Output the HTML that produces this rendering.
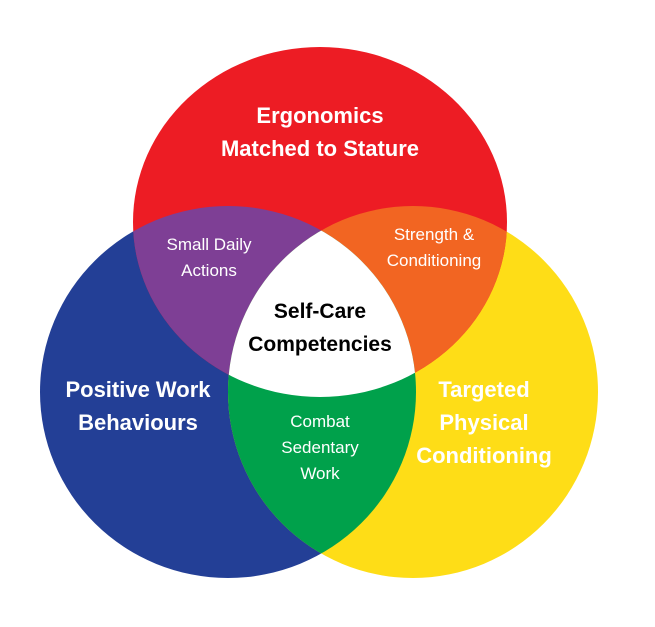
<!DOCTYPE html>
<html><head><style>html,body{margin:0;padding:0;background:#fff;width:655px;height:627px;overflow:hidden}
text{font-family:"Liberation Sans",sans-serif;text-anchor:middle}</style></head><body>
<svg width="655" height="627" viewBox="0 0 655 627">
<defs>
<clipPath id="cr"><ellipse cx="320" cy="222" rx="187" ry="175"/></clipPath>
<clipPath id="cb"><ellipse cx="228" cy="392" rx="188" ry="186"/></clipPath>
<clipPath id="cy"><ellipse cx="413" cy="392" rx="185" ry="186"/></clipPath>
</defs>
<ellipse cx="228" cy="392" rx="188" ry="186" fill="#233F96"/>
<ellipse cx="413" cy="392" rx="185" ry="186" fill="#FEDD17"/>
<ellipse cx="320" cy="222" rx="187" ry="175" fill="#ED1C24"/>
<g clip-path="url(#cb)"><ellipse cx="320" cy="222" rx="187" ry="175" fill="#7E3F95"/></g>
<g clip-path="url(#cy)"><ellipse cx="320" cy="222" rx="187" ry="175" fill="#F26522"/></g>
<g clip-path="url(#cb)"><ellipse cx="413" cy="392" rx="185" ry="186" fill="#00A14B"/></g>
<g clip-path="url(#cr)"><g clip-path="url(#cb)"><ellipse cx="413" cy="392" rx="185" ry="186" fill="#fff"/></g></g>
<g fill="#fff" font-weight="bold" font-size="22">
<text x="320" y="123">Ergonomics</text>
<text x="320" y="156">Matched to Stature</text>
<text x="138" y="397">Positive Work</text>
<text x="138" y="430">Behaviours</text>
<text x="484" y="397">Targeted</text>
<text x="484" y="430">Physical</text>
<text x="484" y="463">Conditioning</text>
</g>
<g fill="#000" font-weight="bold" font-size="21">
<text x="320" y="318">Self-Care</text>
<text x="320" y="351">Competencies</text>
</g>
<g fill="#fff" font-size="17">
<text x="209" y="250">Small Daily</text>
<text x="209" y="276">Actions</text>
<text x="434" y="240">Strength &amp;</text>
<text x="434" y="266">Conditioning</text>
<text x="320" y="427">Combat</text>
<text x="320" y="453">Sedentary</text>
<text x="320" y="479">Work</text>
</g>
</svg>
</body></html>
